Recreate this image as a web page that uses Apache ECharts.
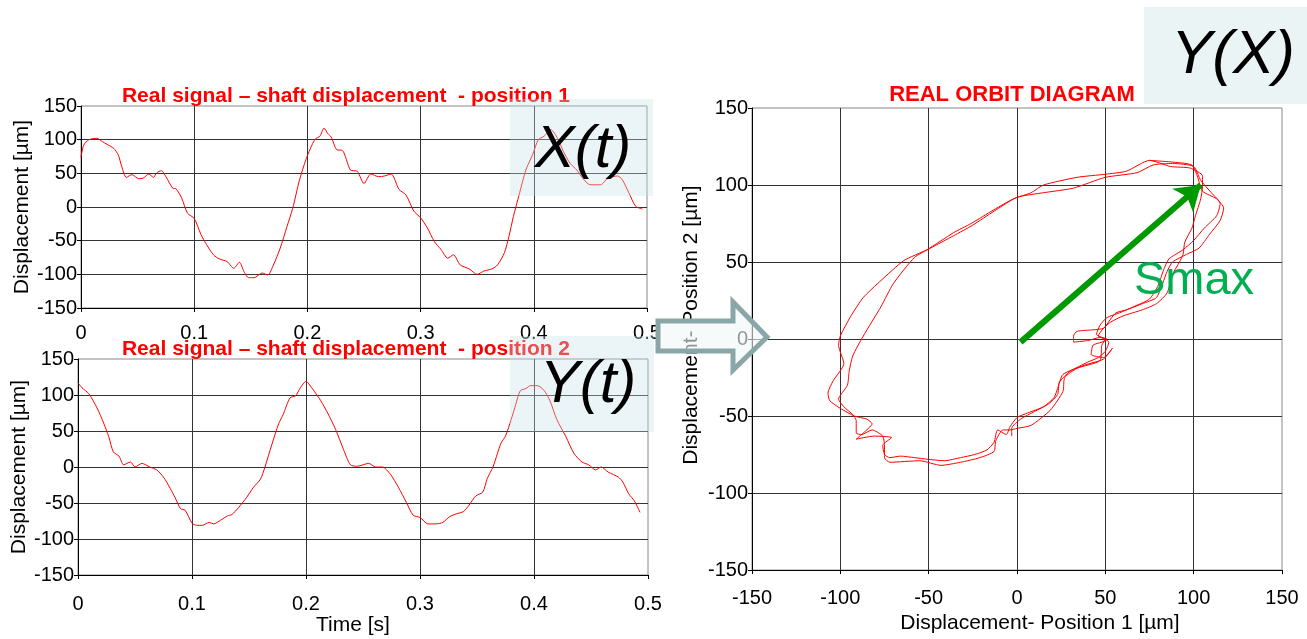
<!DOCTYPE html>
<html>
<head>
<meta charset="utf-8">
<title>Real orbit diagram</title>
<script src="https://cdn.jsdelivr.net/npm/echarts@6/dist/echarts.min.js"></script>
<style>
  html, body { margin: 0; padding: 0; background: #fff; }
  #main { width: 1307px; height: 639px; }
</style>
</head>
<body>
<div id="main"></div>
<script>
// position 1 : X(t), time [s] / displacement [µm]
var timeX = [0, 0.0024, 0.007, 0.014, 0.019, 0.023, 0.029, 0.033, 0.036, 0.040, 0.045, 0.051, 0.055, 0.060, 0.064, 0.067, 0.071, 0.075, 0.081, 0.084, 0.089, 0.094, 0.100, 0.106, 0.111, 0.117, 0.122, 0.129, 0.135, 0.140, 0.144, 0.148, 0.153, 0.160, 0.165, 0.170, 0.176, 0.182, 0.187, 0.193, 0.199, 0.204, 0.207, 0.211, 0.2147, 0.218, 0.221, 0.226, 0.231, 0.238, 0.244, 0.250, 0.256, 0.263, 0.268, 0.274, 0.281, 0.287, 0.294, 0.300, 0.306, 0.312, 0.318, 0.324, 0.329, 0.335, 0.343, 0.350, 0.356, 0.363, 0.368, 0.374, 0.378, 0.382, 0.387, 0.393, 0.399, 0.404, 0.409, 0.415, 0.421, 0.426, 0.432, 0.438, 0.444, 0.450, 0.459, 0.465, 0.474, 0.478, 0.484, 0.490, 0.496];
var dispX = [74, 92, 100, 102, 97, 93, 87, 77, 60, 44, 48, 42, 43, 49, 44, 51, 54, 45, 28, 27, 13, -9, -17, -41, -56, -71, -77, -81, -91, -82, -96, -105, -105, -98, -101, -86, -61, -29, -2, 40, 72, 92, 101, 105, 117, 109, 104, 85, 84, 55, 53, 35, 49, 45, 46, 49, 26, 18, -6, -16, -31, -51, -63, -76, -71, -86, -92, -100, -95, -92, -86, -68, -44, -14, 18, 55, 78, 100, 105, 115, 102, 83, 65, 55, 41, 33, 33, 42, 46, 41, 21, 1, -3];

// position 2 : Y(t)
var timeY = [0, 0.0035, 0.0094, 0.0167, 0.0225, 0.027, 0.031, 0.036, 0.040, 0.046, 0.050, 0.056, 0.063, 0.069, 0.075, 0.081, 0.085, 0.090, 0.094, 0.100, 0.104, 0.109, 0.115, 0.119, 0.125, 0.131, 0.135, 0.141, 0.148, 0.154, 0.160, 0.164, 0.170, 0.176, 0.180, 0.186, 0.191, 0.195, 0.200, 0.205, 0.210, 0.213, 0.219, 0.226, 0.233, 0.239, 0.245, 0.255, 0.261, 0.267, 0.274, 0.281, 0.288, 0.294, 0.300, 0.307, 0.314, 0.320, 0.326, 0.332, 0.338, 0.343, 0.349, 0.355, 0.359, 0.364, 0.368, 0.371, 0.375, 0.380, 0.384, 0.388, 0.393, 0.397, 0.403, 0.409, 0.414, 0.420, 0.428, 0.435, 0.442, 0.448, 0.454, 0.459, 0.465, 0.474, 0.478, 0.483, 0.488, 0.493];
var dispY = [117, 110, 102, 82, 61, 42, 21, 15, 3, 7, 0, 5, 0, -4, -14, -30, -42, -58, -60, -78, -81, -81, -77, -79, -74, -68, -66, -56, -42, -28, -17, 0, 31, 60, 73, 96, 99, 110, 119, 110, 99, 92, 75, 52, 24, 3, 1, 5, 0, 0, -10, -28, -49, -67, -70, -79, -79, -77, -69, -65, -62, -53, -40, -35, -16, 0, 19, 33, 43, 66, 87, 106, 109, 113, 113, 106, 92, 66, 42, 19, 7, 3, -4, 0, -7, -14, -21, -37, -47, -63];

// orbit Y(X), traced along the path
var orbitX = [75, 87, 99, 102, 105, 113, 117, 115, 109, 103, 96, 88, 85, 79, 71, 62, 56, 53, 49, 43, 34, 32, 32, 40, 47, 51, 48, 43, 42, 49, 54, 49, 38, 26, 23, 21, 15, 6, 0, -4, -6, -11, -13, -17, -24, -32, -41, -51, -58, -66, -72, -75, -76, -71, -81, -91, -87, -82, -85, -92, -100, -106, -107, -104, -98, -101, -100, -94, -87, -77, -64, -51, -36, -26, -13, -2, 8, 15, 34, 50, 62, 75,
  87, 98, 105, 105, 104, 101, 99, 95, 94, 92, 88, 85, 79, 71, 60, 53, 49, 46, 50, 48, 47, 34, 27, 26, 19, 8, 0, -4, -8, -12, -13, -21, -32, -43, -55, -72, -75, -75, -76, -82, -88, -91, -91, -93, -98, -101, -96, -95, -93, -87, -77, -70, -58, -49, -36, -25, -13, 0, 15, 32, 50, 68, 77,
  88, 100, 104, 110, 115, 113, 106, 100, 94, 86, 83, 80, 75, 66, 58, 51, 47, 45, 48, 52, 50, 46, 40, 30, 24, 23, 18, 10, 2, -3, -3];
var orbitY = [116, 115, 113, 106, 96, 91, 85, 77, 68, 59, 55, 50, 44, 27, 23, 19, 17, 13, 7, 6, 5, 2, -2, -1, 1, 0, -2, -4, -10, -12, -6, -13, -17, -23, -32, -38, -44, -48, -51, -57, -62, -59, -67, -72, -75, -77, -79, -78, -77, -76, -77, -75, -69, -64, -63, -65, -61, -55, -52, -50, -45, -40, -35, -27, -16, -4, 2, 15, 27, 38, 51, 58, 69, 75, 84, 91, 95, 100, 105, 107, 109, 116,
  112, 111, 106, 99, 91, 80, 72, 63, 55, 50, 42, 30, 23, 19, 15, 11, 7, 2, 0, -4, -14, -19, -25, -34, -46, -56, -58, -59, -59, -66, -73, -77, -80, -82, -79, -80, -77, -70, -63, -59, -62, -61, -53, -49, -44, -39, -30, -21, -11, 2, 21, 36, 53, 59, 67, 74, 83, 92, 95, 98, 105, 108, 113,
  114, 112, 103, 95, 88, 80, 72, 64, 58, 52, 45, 35, 26, 21, 17, 14, 9, 3, 1, -2, -8, -12, -15, -21, -28, -36, -42, -47, -52, -58, -63];

// Smax arrow, from centre to the farthest orbit point
var smaxFrom = [2, -2];
var smaxTo = [104, 100];

function zip(a, b) {
  var out = [];
  for (var i = 0; i < a.length; i++) out.push([a[i], b[i]]);
  return out;
}

var FONT = 'Liberation Sans';
var chart = echarts.init(document.getElementById('main'), null, { renderer: 'canvas' });

function valueAxis(gridIndex, min, max, interval, margin, extra) {
  var ax = {
    type: 'value',
    gridIndex: gridIndex,
    min: min,
    max: max,
    interval: interval,
    axisLine: { show: true, onZero: false, lineStyle: { color: '#000', width: 1 } },
    axisTick: { show: true, length: 4, lineStyle: { color: '#000' } },
    splitLine: { show: true, showMaxLine: false, lineStyle: { color: '#333', width: 1 } },
    axisLabel: { color: '#000', fontSize: 20, fontFamily: FONT, margin: margin }
  };
  return Object.assign(ax, extra || {});
}

var nameStyle = { color: '#000', fontSize: 21, fontFamily: FONT };
var titleStyle = { color: '#ff0000', fontSize: 21, fontWeight: 'bold', fontFamily: FONT, lineHeight: 24 };
var redLine = { color: '#ff0000', width: 1 };

var option = {
  animation: false,
  backgroundColor: '#fff',
  title: [
    { text: 'Real signal – shaft displacement  - position 1', left: 346, top: 84, textAlign: 'center', padding: 0, textStyle: titleStyle },
    { text: 'Real signal – shaft displacement  - position 2', left: 346, top: 337, textAlign: 'center', padding: 0, textStyle: titleStyle },
    { text: 'REAL ORBIT DIAGRAM', left: 1012, top: 83, textAlign: 'center', padding: 0, textStyle: Object.assign({}, titleStyle, { fontSize: 22 }) }
  ],
  grid: [
    { left: 81, top: 106, width: 566, height: 202, show: true, borderColor: '#888', borderWidth: 1 },
    { left: 78, top: 359, width: 570, height: 216, show: true, borderColor: '#888', borderWidth: 1 },
    { left: 752, top: 108, width: 530, height: 470, show: true, borderColor: '#888', borderWidth: 1 }
  ],
  xAxis: [
    valueAxis(0, 0, 0.5, 0.1, 15),
    valueAxis(1, 0, 0.5, 0.1, 19, {
      name: 'Time [s]', nameLocation: 'middle', nameGap: 40,
      nameTextStyle: Object.assign({ padding: [0, 20, 0, 0] }, nameStyle)
    }),
    valueAxis(2, -150, 150, 50, 18, {
      name: 'Displacement- Position 1 [µm]', nameLocation: 'middle', nameGap: 38,
      nameTextStyle: Object.assign({ padding: [0, 0, 0, 46] }, nameStyle)
    })
  ],
  yAxis: [
    valueAxis(0, -150, 150, 50, 4, {
      name: 'Displacement [µm]', nameLocation: 'middle', nameGap: 46, nameTextStyle: nameStyle
    }),
    valueAxis(1, -150, 150, 50, 4, {
      name: 'Displacement [µm]', nameLocation: 'middle', nameGap: 45, nameTextStyle: nameStyle
    }),
    valueAxis(2, -150, 150, 50, 4, {
      name: 'Displacement- Position 2 [µm]', nameLocation: 'middle', nameGap: 50,
      nameTextStyle: Object.assign({ padding: [0, 0, 0, 28] }, nameStyle)
    })
  ],
  series: [
    {
      name: 'X(t)', type: 'line', xAxisIndex: 0, yAxisIndex: 0,
      data: zip(timeX, dispX), showSymbol: false, smooth: 0.25,
      lineStyle: redLine, silent: true
    },
    {
      name: 'Y(t)', type: 'line', xAxisIndex: 1, yAxisIndex: 1,
      data: zip(timeY, dispY), showSymbol: false, smooth: 0.25,
      lineStyle: redLine, silent: true
    },
    {
      name: 'Y(X)', type: 'line', xAxisIndex: 2, yAxisIndex: 2,
      data: zip(orbitX, orbitY), showSymbol: false, smooth: 0.2,
      lineStyle: redLine, silent: true,
      markLine: {
        silent: true,
        symbol: ['none', 'arrow'],
        symbolSize: 24,
        label: { show: false },
        itemStyle: { color: '#009900' },
        lineStyle: { color: '#009900', width: 6, type: 'solid' },
        data: [[{ coord: smaxFrom }, { coord: smaxTo }]]
      }
    }
  ],
  graphic: [
    // boxes with the signal names
    { type: 'rect', z: 10, shape: { x: 510, y: 99, width: 143, height: 97 }, style: { fill: 'rgba(198,224,228,0.35)' } },
    { type: 'rect', z: 10, shape: { x: 510, y: 336, width: 144, height: 96 }, style: { fill: 'rgba(198,224,228,0.35)' } },
    { type: 'rect', z: 10, shape: { x: 1144, y: 7, width: 163, height: 97 }, style: { fill: '#ebf4f5' } },
    { type: 'text', z: 11, style: { text: 'X(t)', x: 583, y: 150, fill: '#000', font: 'italic 60px "Liberation Sans"', align: 'center', verticalAlign: 'middle' } },
    { type: 'text', z: 11, style: { text: 'Y(t)', x: 588, y: 385, fill: '#000', font: 'italic 60px "Liberation Sans"', align: 'center', verticalAlign: 'middle' } },
    { type: 'text', z: 11, style: { text: 'Y(X)', x: 1233, y: 56, fill: '#000', font: 'italic 62px "Liberation Sans"', align: 'center', verticalAlign: 'middle' } },
    // hollow arrow between the time signals and the orbit
    {
      type: 'polygon', z: 12,
      shape: { points: [[658, 321], [733, 321], [733, 302], [767, 337], [733, 370], [733, 351], [658, 351]] },
      style: { fill: 'rgba(240,247,248,0.6)', stroke: '#8ba6a6', lineWidth: 5 }
    },
    { type: 'text', z: 11, style: { text: 'Smax', x: 1194, y: 281, fill: '#00b050', font: '47px "Liberation Sans"', align: 'center', verticalAlign: 'middle' } }
  ]
};

chart.setOption(option);
</script>
</body>
</html>
